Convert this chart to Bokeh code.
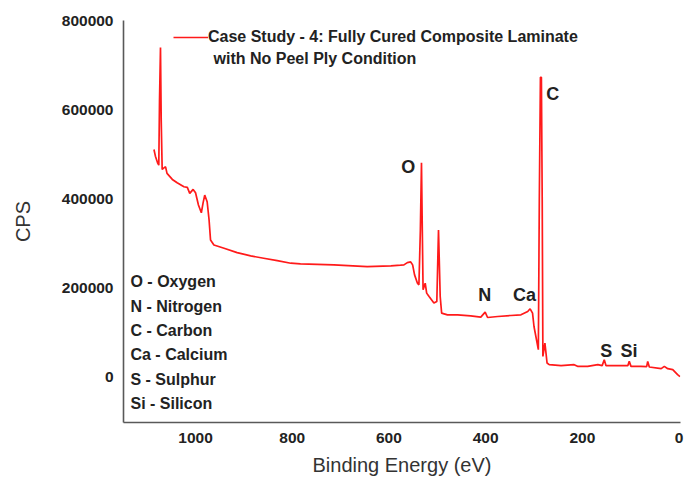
from bokeh.plotting import figure
from bokeh.models import Range1d, Label, Legend, LegendItem, NumeralTickFormatter
from bokeh.embed import file_html
from bokeh.resources import INLINE

# ---------------- data ----------------
binding_energy = [1086, 1083, 1078, 1076, 1074.5, 1072.5, 1071, 1069, 1066, 1062,
                  1059, 1048, 1038, 1024, 1017, 1012, 1005, 1000, 994, 988,
                  984.5, 981, 976, 972, 969, 962, 941, 914, 886, 859,
                  831, 803, 783, 714, 645, 596, 576, 569, 562, 555,
                  551, 547, 541, 538, 535, 532.7, 531, 529.4, 525, 522,
                  517, 507, 501, 497.5, 494, 491, 479, 458, 431, 410,
                  401, 396, 375, 348, 327, 313, 308, 303, 300, 291,
                  289, 286.7, 284.7, 283, 281.6, 277.4, 273, 268.5, 244, 217,
                  210, 189, 168, 159, 154.7, 151, 127, 106, 103, 99.4,
                  79, 67, 64.8, 61.5, 37, 30.4, 23.4, 13, 3, -2]
cps = [510300, 495300, 478900, 475100, 620800, 739500, 575900, 465500, 468400, 471300,
       456500, 443000, 435400, 426500, 425100, 411700, 420600, 413000, 385500, 368200,
       389900, 407900, 392800, 351800, 307000, 295800, 288400, 278600, 271200, 266000,
       260600, 254800, 253200, 251000, 247200, 248800, 250300, 251000, 256100, 257700,
       251000, 228600, 210000, 206200, 329400, 480200, 329400, 195000, 210000, 187600,
       180000, 165200, 168700, 329400, 180000, 142700, 138900, 138900, 136700, 133800,
       145000, 132900, 135100, 137400, 138900, 146300, 152400, 142700, 112700, 60500,
       396700, 672300, 672300, 396700, 45500, 75500, 30700, 26900, 24700, 26900,
       23100, 23100, 26900, 24700, 38100, 24700, 24700, 24700, 34300, 23100,
       23100, 22400, 34300, 21700, 17900, 23100, 17900, 15700, 4500, 0]

x_ticks = [1000, 800, 600, 400, 200, 0]
y_ticks = [0, 200000, 400000, 600000, 800000]

series_name = "Case Study - 4: Fully Cured Composite Laminate"
series_name_2 = "with No Peel Ply Condition"

peak_labels = ["O", "N", "Ca", "C", "S", "Si"]
peak_label_x = [560, 402, 319.5, 261, 150.5, 103.5]
peak_label_y = [471300, 183800, 182600, 634900, 58300, 58300]

element_names = ["O - Oxygen", "N - Nitrogen", "C - Carbon",
                 "Ca - Calcium", "S - Sulphur", "Si - Silicon"]

# ---------------- styling ----------------
FONT = "Liberation Sans"
TEXT = "#222222"
AXIS = "#595959"

p = figure(width=686, height=478, output_backend="svg", toolbar_location=None,
           title=None,
           x_range=Range1d(1149, -3), y_range=Range1d(-103000, 800000),
           min_border_left=123, min_border_right=6, min_border_top=20,
           min_border_bottom=55)

p.grid.grid_line_color = None
p.outline_line_color = None
p.background_fill_color = "white"

r = p.line(binding_energy, cps, line_color="#ff1a1a", line_width=1.7)

for ax in (p.xaxis, p.yaxis):
    ax.axis_line_color = AXIS
    ax.axis_line_width = 1.6
    ax.major_tick_line_color = None
    ax.minor_tick_line_color = None
    ax.major_tick_in = 0
    ax.major_tick_out = 0
    ax.major_label_text_font = FONT
    ax.major_label_text_font_style = "bold"
    ax.major_label_text_font_size = "15.5px"
    ax.major_label_text_color = TEXT
    ax.major_label_standoff = 10
    ax.axis_label_text_font = FONT
    ax.axis_label_text_font_style = "normal"
    ax.axis_label_text_font_size = "20px"
    ax.axis_label_text_color = "#333333"

p.xaxis.ticker = x_ticks
p.yaxis.ticker = y_ticks
p.yaxis.formatter = NumeralTickFormatter(format="0")
p.xaxis.axis_label = "Binding Energy (eV)"
p.yaxis.axis_label = "CPS"
p.xaxis.axis_label_standoff = 8
p.yaxis.axis_label_standoff = 25

legend = Legend(items=[LegendItem(label=series_name, renderers=[r])],
                location=(50, 375), padding=0, margin=0, spacing=0,
                glyph_width=35, glyph_height=20, label_height=20,
                label_standoff=0, label_text_font=FONT,
                label_text_font_style="bold", label_text_font_size="16px",
                label_text_color=TEXT, background_fill_alpha=0,
                border_line_alpha=0)
p.add_layout(legend)

p.add_layout(Label(x=962.7, y=714900, text=series_name_2, text_align="left",
                   text_baseline="middle", text_font=FONT,
                   text_font_style="bold", text_font_size="16px",
                   text_color=TEXT))

for t, lx, ly in zip(peak_labels, peak_label_x, peak_label_y):
    p.add_layout(Label(x=lx, y=ly, text=t, text_align="center",
                       text_baseline="middle", text_font=FONT,
                       text_font_style="bold", text_font_size="18px",
                       text_color=TEXT))

# element key, stacked rows in the lower-left corner
row_top = 212900
row_step = 54700
for i, name in enumerate(element_names):
    p.add_layout(Label(x=1134.6, y=row_top - i * row_step, text=name,
                       text_align="left", text_baseline="middle",
                       text_font=FONT, text_font_style="bold",
                       text_font_size="16px", text_color=TEXT))

open("out.html", "w").write(file_html(p, INLINE))
